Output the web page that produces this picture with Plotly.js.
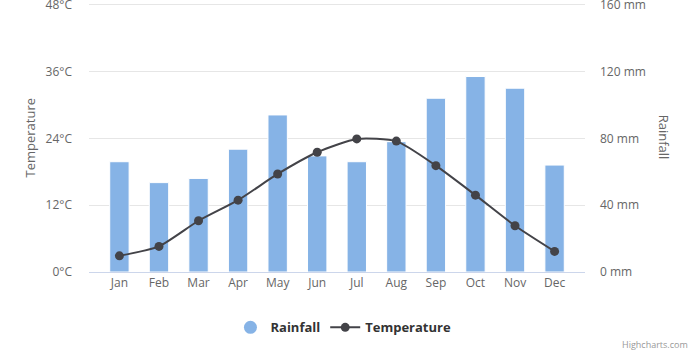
<!DOCTYPE html>
<html>
<head>
<meta charset="utf-8">
<script src="https://cdn.plot.ly/plotly-3.0.1.min.js"></script>
<style>html,body{margin:0;padding:0;background:#fff}#chart{width:700px;height:350px}</style>
</head>
<body>
<div id="chart"></div>
<script>
const months = ["Jan","Feb","Mar","Apr","May","Jun","Jul","Aug","Sep","Oct","Nov","Dec"];
const rainfall = [66, 53.5, 56, 73.5, 94, 69.5, 66, 78, 104, 117, 110, 64];
const temperature = [2.9, 4.6, 9.2, 12.9, 17.6, 21.5, 23.9, 23.5, 19.1, 13.8, 8.3, 3.7];
const tempTicks = [0, 12, 24, 36, 48];
const rainTicks = [0, 40, 80, 120, 160];

const barColor = "#86b3e6";
const lineColor = "#434348";

const traces = [
  {
    type: "bar", name: "Rainfall", x: months, y: rainfall, yaxis: "y",
    width: 0.49, marker: {color: barColor, line: {color: "#ffffff", width: 1}},
    showlegend: false, hoverinfo: "skip"
  },
  {
    type: "scatter", mode: "markers", name: "Rainfall", x: [null], y: [null], yaxis: "y",
    marker: {color: barColor, size: 13, symbol: "circle"}, showlegend: true
  },
  {
    type: "scatter", mode: "lines+markers", name: "Temperature", x: months, y: temperature, yaxis: "y2",
    line: {color: lineColor, width: 2, shape: "spline", smoothing: 0.6},
    marker: {color: lineColor, size: 9}, showlegend: true
  }
];

const layout = {
  width: 700, height: 350,
  margin: {l: 89, r: 115, t: 3, b: 78},
  paper_bgcolor: "#ffffff", plot_bgcolor: "#ffffff",
  font: {family: "Open Sans, sans-serif", size: 12, color: "#666666"},
  xaxis: {
    type: "category", showgrid: false, zeroline: false,
    showline: true, linecolor: "#ccd6eb", linewidth: 1,
    ticks: "", tickfont: {size: 12, color: "#666666"}, fixedrange: true
  },
  yaxis: {
    side: "right", range: [0, 161], tickmode: "array", tickvals: rainTicks,
    ticktext: rainTicks.map(v => v + " mm"),
    showgrid: true, gridcolor: "#e6e6e6", gridwidth: 1, zeroline: false,
    tickfont: {size: 12, color: "#666666"}, ticks: "", ticklabelstandoff: 14,
    ticklabeloverflow: "allow"
  },
  yaxis2: {
    overlaying: "y", side: "left", range: [0, 48.3], tickmode: "array", tickvals: tempTicks,
    ticktext: tempTicks.map(v => v + "°C"),
    showgrid: false, zeroline: false,
    tickfont: {size: 12, color: "#666666"}, ticks: "", ticklabelstandoff: 16,
    ticklabeloverflow: "allow"
  },
  legend: {
    orientation: "h", x: 0.513, xanchor: "center", y: -0.206, yanchor: "middle",
    font: {size: 13, color: "#333333", weight: "bold"}, itemwidth: 30,
    bgcolor: "rgba(0,0,0,0)"
  },
  annotations: [
    {text: "Temperature", xref: "paper", yref: "paper", x: -0.119, y: 0.5,
     xanchor: "center", yanchor: "middle", textangle: -90, showarrow: false,
     font: {size: 13, color: "#666666"}},
    {text: "Rainfall", xref: "paper", yref: "paper", x: 1.161, y: 0.5,
     xanchor: "center", yanchor: "middle", textangle: 90, showarrow: false,
     font: {size: 13, color: "#666666"}},
    {text: "Highcharts.com", xref: "paper", yref: "paper", x: 1.212, y: -0.268,
     xanchor: "right", yanchor: "middle", showarrow: false,
     font: {size: 9, color: "#999999"}}
  ]
};

Plotly.newPlot("chart", traces, layout, {displayModeBar: false, staticPlot: true});
</script>
</body>
</html>
